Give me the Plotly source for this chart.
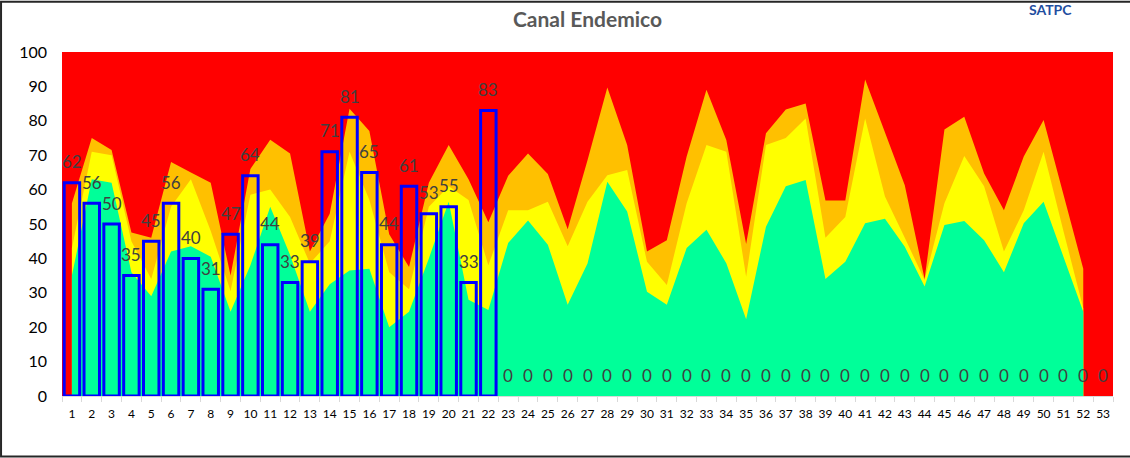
import plotly.graph_objects as go

weeks = list(range(1, 54))
week_labels = [str(w) for w in weeks]

cases = [62, 56, 50, 35, 45, 56, 40, 31, 47, 64, 44, 33, 39, 71, 81, 65, 44, 61, 53, 55, 33, 83,
         0, 0, 0, 0, 0, 0, 0, 0, 0, 0, 0, 0, 0, 0, 0, 0, 0, 0, 0, 0, 0, 0, 0, 0, 0, 0, 0, 0, 0, 0, 0]

# Endemic channel zones (weeks 1-52)
success_zone = [35, 63, 62, 36, 29, 42, 43.5, 40.5, 24.5, 38, 55, 41, 24.5, 32.5, 36.5, 37, 20, 24.5, 40, 56.5,
                28, 25, 44.5, 51, 44, 26.5, 38.5, 62.3, 53.6, 30.3, 26.5, 43, 48.3, 38.6, 22.3, 49.2, 61, 62.8,
                34, 39, 50.2, 51.5, 43.4, 31.8, 49.7, 50.9, 45.3, 36, 50.2, 56.5, 40.5, 24.5]
security_zone = [43, 71, 70, 45, 34, 55, 63, 48, 30.5, 58.5, 60, 52, 38.5, 45, 71, 57, 36, 31, 55, 61,
                 57, 38, 54, 54, 56.5, 43.5, 56.5, 64.2, 65.7, 39, 32.3, 56, 73, 71, 34.7, 73, 75, 80.7,
                 46, 52, 80.7, 58, 46, 33.7, 56, 69.8, 61, 42, 54, 71, 48, 25.5]
alert_zone = [56, 75, 71.5, 47.5, 46, 68, 65, 62, 35, 66, 74.5, 70.5, 42, 53, 83.5, 77, 47, 37.5, 62, 73,
              63, 50.5, 64, 70.5, 64.5, 48.5, 68.5, 89.7, 73, 42, 45.3, 69.6, 89, 74.4, 44.2, 76.4, 83.3, 85,
              56.8, 56.8, 92, 76.5, 61.3, 34, 77.5, 81.2, 64.7, 54, 69.6, 80.2, 58.6, 37]

FONT = "Lato"

fig = go.Figure()

for vals, col in [(alert_zone, "#FFC000"), (security_zone, "#FFFF00"), (success_zone, "#00FF99")]:
    fig.add_trace(go.Scatter(
        x=weeks[:len(vals)], y=vals, mode="lines",
        line=dict(width=0, color=col), fill="tozeroy", fillcolor=col,
        hoverinfo="skip", showlegend=False,
    ))

# bars on an overlaying axis pair so they sit above the areas
fig.add_trace(go.Bar(
    x=weeks, y=cases, width=0.78, xaxis="x2", yaxis="y2",
    marker=dict(color="rgba(0,0,0,0)",
                line=dict(color="#0000FF", width=[3 if v else 0 for v in cases])),
    showlegend=False,
))

for w, v in zip(weeks, cases):
    fig.add_annotation(x=w, y=v, xref="x", yref="y", text=str(v), showarrow=False,
                       yanchor="middle", yshift=21,
                       font=dict(family=FONT, size=17, color="#404040"))

# logo text at top right
fig.add_annotation(xref="paper", yref="paper", x=0.918, y=1.123, xanchor="left", yanchor="middle",
                   text="<b>SATPC</b>", showarrow=False,
                   font=dict(family=FONT, size=14, color="#1F4EA0"))

# chart frame
fig.add_shape(type="rect", xref="paper", yref="paper", x0=-0.058, x1=1.03, y0=-0.176, y1=1.146,
              line=dict(color="#262626", width=2), layer="above")

boundaries = [w - 0.5 for w in weeks] + [weeks[-1] + 0.5]

fig.update_layout(
    width=1130, height=458,
    margin=dict(l=62, r=17, t=52, b=62),
    paper_bgcolor="white", plot_bgcolor="#FF0000",
    font=dict(family=FONT, color="#000000"),
    title=dict(text="<b>Canal Endemico</b>", x=0.5, xref="paper", xanchor="center",
               y=1 - 20 / 458, yref="container", yanchor="middle",
               font=dict(family=FONT, size=21, color="#595959")),
    xaxis=dict(range=[0.5, 53.5], tickmode="array", tickvals=weeks, ticktext=week_labels, tickangle=0,
               ticks="outside", ticklen=5, tickcolor="rgba(0,0,0,0)",
               minor=dict(tickvals=boundaries, ticks="outside", ticklen=5, tickcolor="#D9D9D9", showgrid=False),
               showline=True, linecolor="#D9D9D9", linewidth=1, showgrid=False, zeroline=False,
               tickfont=dict(family=FONT, size=12, color="#000000"), ticklabelstandoff=2),
    yaxis=dict(range=[0, 100], dtick=10, showgrid=False, zeroline=False, showline=False, ticks="",
               tickfont=dict(family=FONT, size=16, color="#000000"), ticklabelstandoff=14),
    xaxis2=dict(range=[0.5, 53.5], overlaying="x", visible=False),
    yaxis2=dict(range=[0, 100], overlaying="y", visible=False),
)

fig.write_html("out.html", config={"displayModeBar": False},
               post_script="document.body.style.margin='0px';")
